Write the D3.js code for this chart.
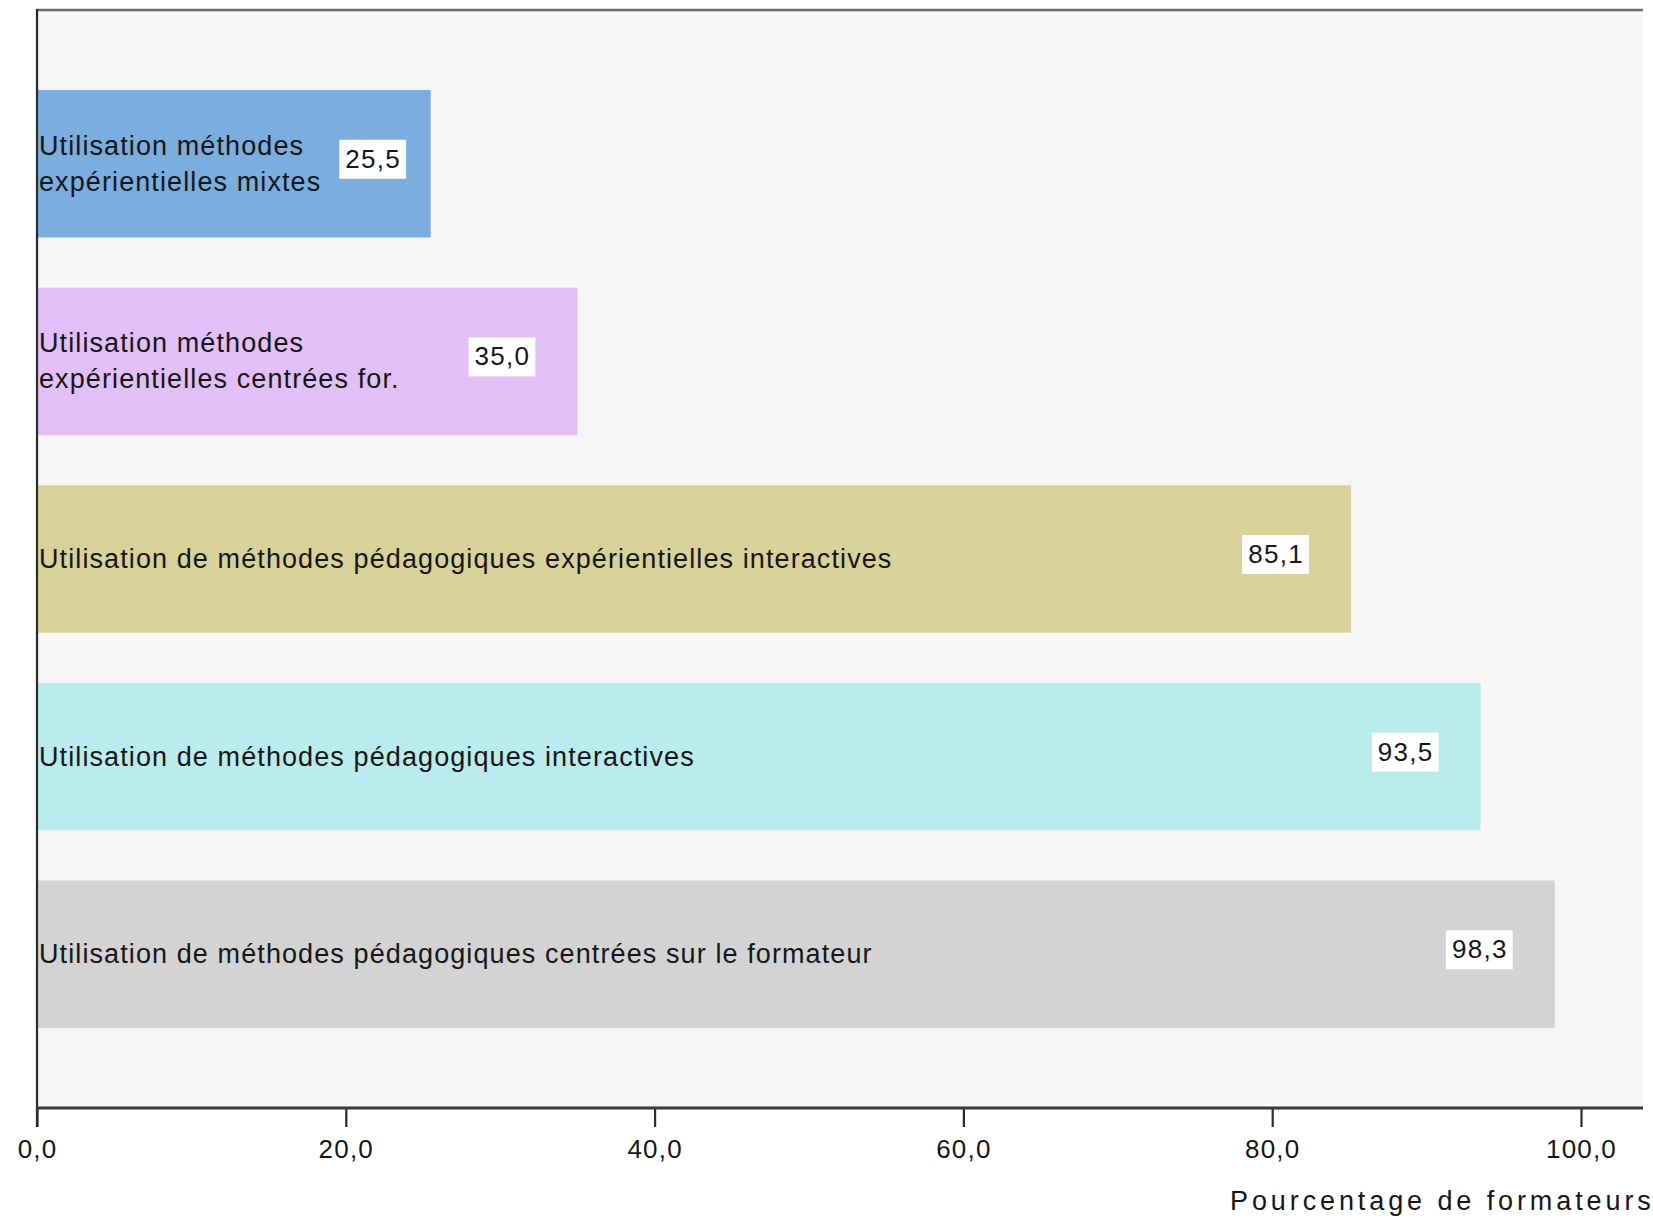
<!DOCTYPE html>
<html lang="fr">
<head>
<meta charset="utf-8">
<script src="https://cdn.jsdelivr.net/npm/d3@7"></script>
<style>
  html, body { margin: 0; padding: 0; background: #ffffff; }
  svg { display: block; }
  text { font-family: "Liberation Sans", Arial, sans-serif; fill: #161616; }
</style>
</head>
<body>
<svg id="chart" width="1653" height="1219"></svg>
<script>
// Categories (top to bottom); "\n" marks a line break in the bar label
const categories = [
  "Utilisation méthodes\nexpérientielles mixtes",
  "Utilisation méthodes\nexpérientielles centrées for.",
  "Utilisation de méthodes pédagogiques expérientielles interactives",
  "Utilisation de méthodes pédagogiques interactives",
  "Utilisation de méthodes pédagogiques centrées sur le formateur"
];

// Percentage of trainers per category
const values = [25.5, 35.0, 85.1, 93.5, 98.3];

// Bar fill colours, same order as categories
const barColors = ["#7badde", "#e2bff7", "#d8d29a", "#baecee", "#d3d3d3"];

// X axis ticks and title
const xTicks = [0, 20, 40, 60, 80, 100];
const xTitle = "Pourcentage de formateurs";

// French number formatting (comma as decimal separator)
const fr = d3.formatLocale({ decimal: ",", thousands: "\u00a0", grouping: [3], currency: ["", " €"] });
const fmt = fr.format(".1f");

const svg = d3.select("#chart");

const plot = { left: 37, top: 10, right: 1643, bottom: 1108 };

const x = d3.scaleLinear().domain([0, 100]).range([plot.left, 1581]);
const y = d3.scaleBand()
  .domain(categories)
  .range([plot.top, plot.bottom])
  .paddingInner(0.254)
  .paddingOuter(0.405);

// Plot background
svg.append("rect")
  .attr("x", plot.left).attr("y", plot.top)
  .attr("width", plot.right - plot.left).attr("height", plot.bottom - plot.top)
  .attr("fill", "#f6f6f6");

// Bars
svg.append("g").selectAll("rect")
  .data(categories)
  .join("rect")
  .attr("x", x(0))
  .attr("y", d => y(d))
  .attr("width", (d, i) => x(values[i]) - x(0))
  .attr("height", y.bandwidth())
  .attr("fill", (d, i) => barColors[i]);

// Category labels inside bars
const labelSize = 27;
const lineGap = 36;
const textRight = [];
svg.append("g").selectAll("text")
  .data(categories)
  .join("text")
  .attr("x", plot.left + 2)
  .attr("font-size", labelSize)
  .attr("letter-spacing", 1.1)
  .each(function (d, i) {
    const lines = d.split("\n");
    const cy = y(d) + y.bandwidth() / 2;
    const firstBaseline = cy - (lines.length - 1) * lineGap / 2 + 0.33 * labelSize;
    d3.select(this).selectAll("tspan")
      .data(lines)
      .join("tspan")
      .attr("x", plot.left + 2)
      .attr("y", (l, k) => firstBaseline + k * lineGap)
      .text(l => l);
    const bb = this.getBBox();
    textRight[i] = bb.x + bb.width;
  });

// Value labels in white boxes near the bar end, kept clear of the bar label
const valG = svg.append("g").selectAll("g")
  .data(categories)
  .join("g");

valG.each(function (d, i) {
  const g = d3.select(this);
  const cy = y(d) + y.bandwidth() / 2 - 5;
  const t = g.append("text")
    .attr("font-size", 26)
    .attr("letter-spacing", 1.3)
    .attr("text-anchor", "start")
    .attr("y", cy + 9)
    .text(fmt(values[i]));
  const w = t.node().getBBox().width;
  const left = Math.max(x(values[i]) - 47 - w, textRight[i] + 24);
  t.attr("x", left);
  g.insert("rect", "text")
    .attr("x", left - 6)
    .attr("y", cy - 19)
    .attr("width", w + 11)
    .attr("height", 39)
    .attr("fill", "#ffffff");
});

// X axis
const xAxis = d3.axisBottom(x)
  .tickValues(xTicks)
  .tickFormat(fmt)
  .tickSizeInner(19)
  .tickSizeOuter(0)
  .tickPadding(13);

const axG = svg.append("g")
  .attr("transform", `translate(0,${plot.bottom})`)
  .call(xAxis);
axG.select(".domain").remove();
axG.selectAll(".tick line").attr("stroke", "#2a2a2a").attr("stroke-width", 2.2);
axG.selectAll(".tick text")
  .attr("font-family", "Liberation Sans, Arial, sans-serif")
  .attr("font-size", 26)
  .attr("letter-spacing", 1.2)
  .attr("fill", "#1e1e1e");

// Frame: top border, left axis line, bottom axis line
svg.append("line")
  .attr("x1", plot.left).attr("x2", plot.right)
  .attr("y1", plot.top).attr("y2", plot.top)
  .attr("stroke", "#6a6a6a").attr("stroke-width", 2.5);
svg.append("line")
  .attr("x1", plot.left).attr("x2", plot.left)
  .attr("y1", plot.top - 1).attr("y2", plot.bottom + 19)
  .attr("stroke", "#2a2a2a").attr("stroke-width", 2.2);
svg.append("line")
  .attr("x1", plot.left).attr("x2", plot.right)
  .attr("y1", plot.bottom).attr("y2", plot.bottom)
  .attr("stroke", "#3a3a3a").attr("stroke-width", 3);

// Axis title (runs off the right edge of the chart area)
svg.append("text")
  .attr("x", 1230)
  .attr("y", 1210)
  .attr("font-size", 27)
  .attr("letter-spacing", 3.9)
  .text(xTitle);
</script>
</body>
</html>
